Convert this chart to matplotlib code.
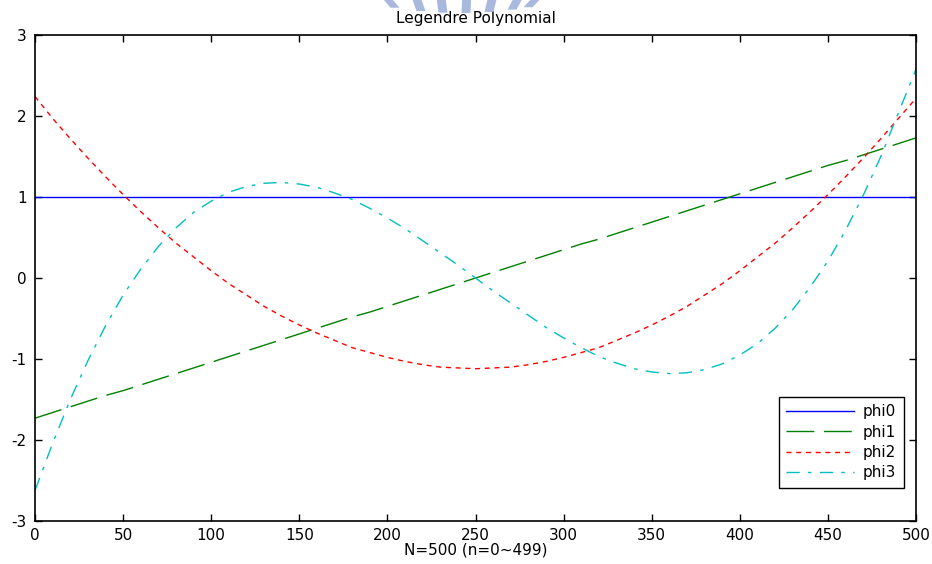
import matplotlib
matplotlib.use("Agg")
import matplotlib.pyplot as plt
from matplotlib.patches import Polygon

plt.rcParams['font.family'] = ['DejaVu Sans']
plt.rcParams['axes.unicode_minus'] = False

# sample index n, values every 10 samples
n = list(range(0, 501, 10))

phi0 = [1.0] * len(n)
phi1 = [-1.73, -1.66, -1.59, -1.52, -1.45, -1.39, -1.32, -1.25, -1.18, -1.11,
        -1.04, -0.97, -0.90, -0.83, -0.76, -0.69, -0.62, -0.55, -0.48, -0.42,
        -0.35, -0.28, -0.21, -0.14, -0.07, 0.00,
        0.07, 0.14, 0.21, 0.28, 0.35, 0.42, 0.48, 0.55, 0.62, 0.69,
        0.76, 0.83, 0.90, 0.97, 1.04, 1.11, 1.18, 1.25, 1.32, 1.39,
        1.45, 1.52, 1.59, 1.66, 1.73]
phi2 = [2.24, 1.97, 1.72, 1.48, 1.25, 1.03, 0.82, 0.62, 0.43, 0.26,
        0.09, -0.07, -0.21, -0.35, -0.47, -0.58, -0.68, -0.77, -0.86, -0.92,
        -0.98, -1.03, -1.07, -1.10, -1.11, -1.12,
        -1.11, -1.10, -1.07, -1.03, -0.98, -0.92, -0.86, -0.77, -0.68, -0.58,
        -0.47, -0.35, -0.21, -0.07, 0.09, 0.26, 0.43, 0.62, 0.82, 1.03,
        1.25, 1.48, 1.72, 1.97, 2.22]
phi3 = [-2.62, -2.04, -1.50, -1.02, -0.59, -0.21, 0.11, 0.39, 0.62, 0.81,
        0.95, 1.06, 1.13, 1.17, 1.18, 1.16, 1.12, 1.05, 0.97, 0.86,
        0.74, 0.61, 0.46, 0.31, 0.16, 0.00,
        -0.16, -0.31, -0.46, -0.61, -0.74, -0.86, -0.97, -1.05, -1.12, -1.16,
        -1.18, -1.17, -1.13, -1.06, -0.95, -0.81, -0.62, -0.39, -0.11, 0.21,
        0.59, 1.02, 1.50, 2.04, 2.58]

fig = plt.figure(figsize=(9.32, 5.64), dpi=100)
ax = fig.add_axes([0.0376, 0.0762, 0.9453, 0.8617])

ax.plot(n, phi0, color='#0000ff', lw=1.0, label='phi0')
ax.plot(n, phi1, color='#008000', lw=1.0, dashes=(20, 7), label='phi1')
ax.plot(n, phi2, color='#ff0000', lw=1.0, dashes=(3.6, 3.4), label='phi2')
ax.plot(n, phi3, color='#00bfbf', lw=1.0, dashes=(9.5, 6, 2.5, 6), label='phi3')

ax.set_xlim(0, 500)
ax.set_ylim(-3, 3)
ax.set_xticks(range(0, 501, 50))
ax.set_yticks(range(-3, 4))
ax.tick_params(direction='in', length=5, width=1, top=True, right=True,
               labelsize=11, colors='black')
ax.tick_params(axis='y', pad=6)
ax.tick_params(axis='x', pad=5)
for s in ax.spines.values():
    s.set_linewidth(1.2)

ax.set_title('Legendre Polynomial', fontsize=11, pad=9)
ax.set_xlabel('N=500 (n=0~499)', fontsize=11, labelpad=0)

leg = ax.legend(loc='lower right', bbox_to_anchor=(0.986, 0.068), fontsize=11,
                fancybox=False, edgecolor='black', framealpha=1, borderaxespad=0,
                handlelength=4.4, borderpad=0.5, labelspacing=0.35, handletextpad=0.6)
leg.get_frame().set_linewidth(1.0)

# faint watermark stripes above the title (part of the scanned page)
W, H = 932, 564
for cx in [395, 421, 443, 466, 489, 512, 528]:
    dx = cx - 460
    bottom = 13 - dx * dx / 800.0
    w = 9
    slant = dx * 0.1
    pts = [(cx - w / 2 + slant, 0), (cx + w / 2 + slant, 0),
           (cx + w / 2, bottom), (cx - w / 2, bottom)]
    pts = [(x / W, 1 - y / H) for x, y in pts]
    fig.patches.append(Polygon(pts, closed=True, transform=fig.transFigure,
                               facecolor='#a9b9dd', edgecolor='none'))

fig.savefig('out.png', dpi=100)
